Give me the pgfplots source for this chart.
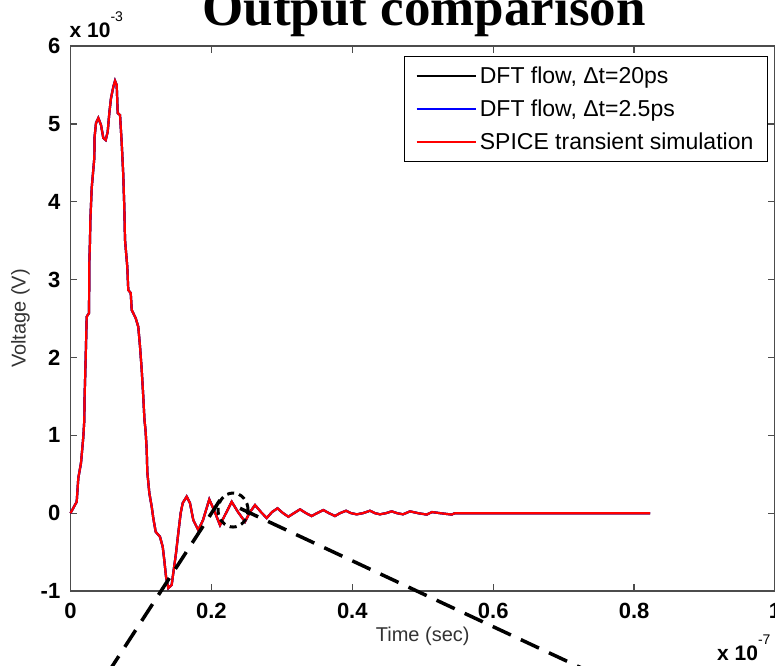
\documentclass[border=0pt]{standalone}
\usepackage{fontspec}
\setmainfont{Liberation Sans}
\newfontfamily\titlefont{Liberation Serif}
\usepackage{pgfplots}
\usepackage{pgfplotstable}
\pgfplotsset{compat=1.18}

% time in units of 1e-7 s, voltage in units of 1e-3 V
\pgfplotstableread{
t v
0.0000 0.000
0.0088 0.146
0.0111 0.451
0.0149 0.644
0.0182 0.981
0.0196 1.196
0.0199 1.453
0.0216 2.009
0.0230 2.523
0.0263 2.570
0.0267 3.212
0.0277 3.507
0.0281 3.739
0.0301 4.176
0.0338 4.561
0.0342 4.831
0.0362 5.010
0.0395 5.075
0.0433 4.985
0.0466 4.818
0.0500 4.792
0.0528 4.899
0.0551 5.139
0.0575 5.331
0.0608 5.476
0.0632 5.553
0.0656 5.498
0.0670 5.139
0.0703 5.113
0.0727 4.753
0.0749 4.342
0.0764 3.918
0.0774 3.507
0.0806 3.165
0.0820 2.865
0.0855 2.827
0.0869 2.608
0.0925 2.505
0.0962 2.394
0.0987 2.137
0.1011 1.838
0.1033 1.495
0.1050 1.196
0.1065 1.067
0.1082 0.810
0.1090 0.532
0.1119 0.258
0.1153 0.082
0.1175 -0.063
0.1209 -0.239
0.1270 -0.303
0.1309 -0.432
0.1331 -0.602
0.1356 -0.817
0.1388 -0.962
0.1436 -0.923
0.1459 -0.769
0.1498 -0.512
0.1530 -0.256
0.1564 0.001
0.1593 0.130
0.1649 0.213
0.1696 0.130
0.1743 -0.089
0.1814 -0.217
0.1881 -0.089
0.1970 0.177
0.2037 0.040
0.2122 -0.153
0.2193 -0.024
0.2288 0.146
0.2378 0.014
0.2477 -0.110
0.2548 0.014
0.2619 0.104
0.2704 0.014
0.2785 -0.063
0.2860 0.014
0.2938 0.062
0.3016 0.001
0.3092 -0.046
0.3172 0.000
0.3258 0.049
0.3343 0.000
0.3424 -0.037
0.3499 0.000
0.3588 0.040
0.3669 0.000
0.3754 -0.037
0.3825 0.000
0.3911 0.031
0.3982 0.000
0.4062 -0.015
0.4152 0.000
0.4251 0.031
0.4322 0.000
0.4393 -0.015
0.4478 0.000
0.4559 0.023
0.4634 0.000
0.4720 -0.015
0.4819 0.023
0.4933 0.000
0.5056 -0.018
0.5131 0.014
0.5245 0.000
0.5411 -0.018
0.5458 0.000
0.8226 0.000
}\spicedata

\begin{document}
\begin{tikzpicture}
\begin{axis}[name=ax, scale only axis, width=704.5pt, height=545pt,
  xmin=0, xmax=1, ymin=-1, ymax=6,
  xtick={0,0.2,0.4,0.6,0.8,1}, xticklabels={0,0.2,0.4,0.6,0.8,1},
  ytick={-1,0,1,2,3,4,5,6}, yticklabels={-1,0,1,2,3,4,5,6},
  tick align=inside, major tick length=7pt,
  axis line style={black!70, line width=1.3pt},
  every tick/.style={black!70, line width=1.3pt},
  ticklabel style={font=\fontsize{22}{24}\selectfont\bfseries, inner sep=0pt},
  xticklabel style={anchor=north, yshift=-12pt},
  yticklabel style={anchor=east, xshift=-10pt},
  xlabel={Time (sec)}, ylabel={Voltage (V)},
  label style={font=\fontsize{20}{22}\selectfont, inner sep=0pt, text=black!80},
  xlabel style={at={(axis description cs:0.5,0)}, anchor=north, yshift=-36pt},
  ylabel style={at={([xshift=-50pt]axis description cs:0,0.5)}, anchor=center},
  clip=false,
  legend style={at={(rel axis cs:1,1)}, anchor=north east, xshift=-7pt, yshift=-10pt,
    draw=black, line width=1.2pt, font=\fontsize{23}{25}\selectfont,
    inner xsep=11pt, inner ysep=9pt, row sep=13pt,
    nodes={inner xsep=3pt, inner ysep=1pt}},
  legend cell align=left,
  legend image code/.code={\draw[#1] (0pt,0pt) -- (59pt,0pt);},
]
\addplot[black, line width=2.2pt] table[x=t,y=v] {\spicedata};
\addlegendentry{DFT flow, Δt=20ps}
\addplot[blue, line width=2.2pt] table[x=t,y=v] {\spicedata};
\addlegendentry{DFT flow, Δt=2.5ps}
\addplot[red, line width=2.2pt] table[x=t,y=v] {\spicedata};
\addlegendentry{SPICE transient simulation}

% zoom indicator
\draw[black, line width=3pt, dash pattern=on 7pt off 5pt] (axis cs:0.2307,0.04) ellipse [x radius=15pt, y radius=17pt];
\draw[black, line width=3.5pt, dash pattern=on 20pt off 11pt] (axis cs:0.2122,0.168) -- (axis cs:0.0373,-2.273);
\draw[black, line width=3.5pt, dash pattern=on 20pt off 11pt] (axis cs:0.2406,0.062) -- (axis cs:0.7516,-2.100);

\node[anchor=base, inner sep=0pt, font={\titlefont\bfseries\fontsize{53}{55}\selectfont}]
  at (rel axis cs:0.502,1) [yshift=21pt] {Output comparison};
\node[anchor=base west, inner sep=0pt, font={\fontsize{21}{23}\selectfont\bfseries}]
  at (rel axis cs:0,1) [xshift=-1pt, yshift=9pt] {x 10\raisebox{16pt}{\fontsize{14}{14}\selectfont\mdseries -3}};
\node[anchor=base west, inner sep=0pt, font={\fontsize{21}{23}\selectfont\bfseries}]
  at (rel axis cs:1,0) [xshift=-58pt, yshift=-69pt] {x 10\raisebox{16pt}{\fontsize{14}{14}\selectfont\mdseries -7}};
\end{axis}
\pgfresetboundingbox
\path[use as bounding box] ([shift={(-70.5pt,-74pt)}]ax.south west) rectangle ([shift={(-70.5pt+775pt,-74pt+665pt)}]ax.south west);
\end{tikzpicture}
\end{document}
